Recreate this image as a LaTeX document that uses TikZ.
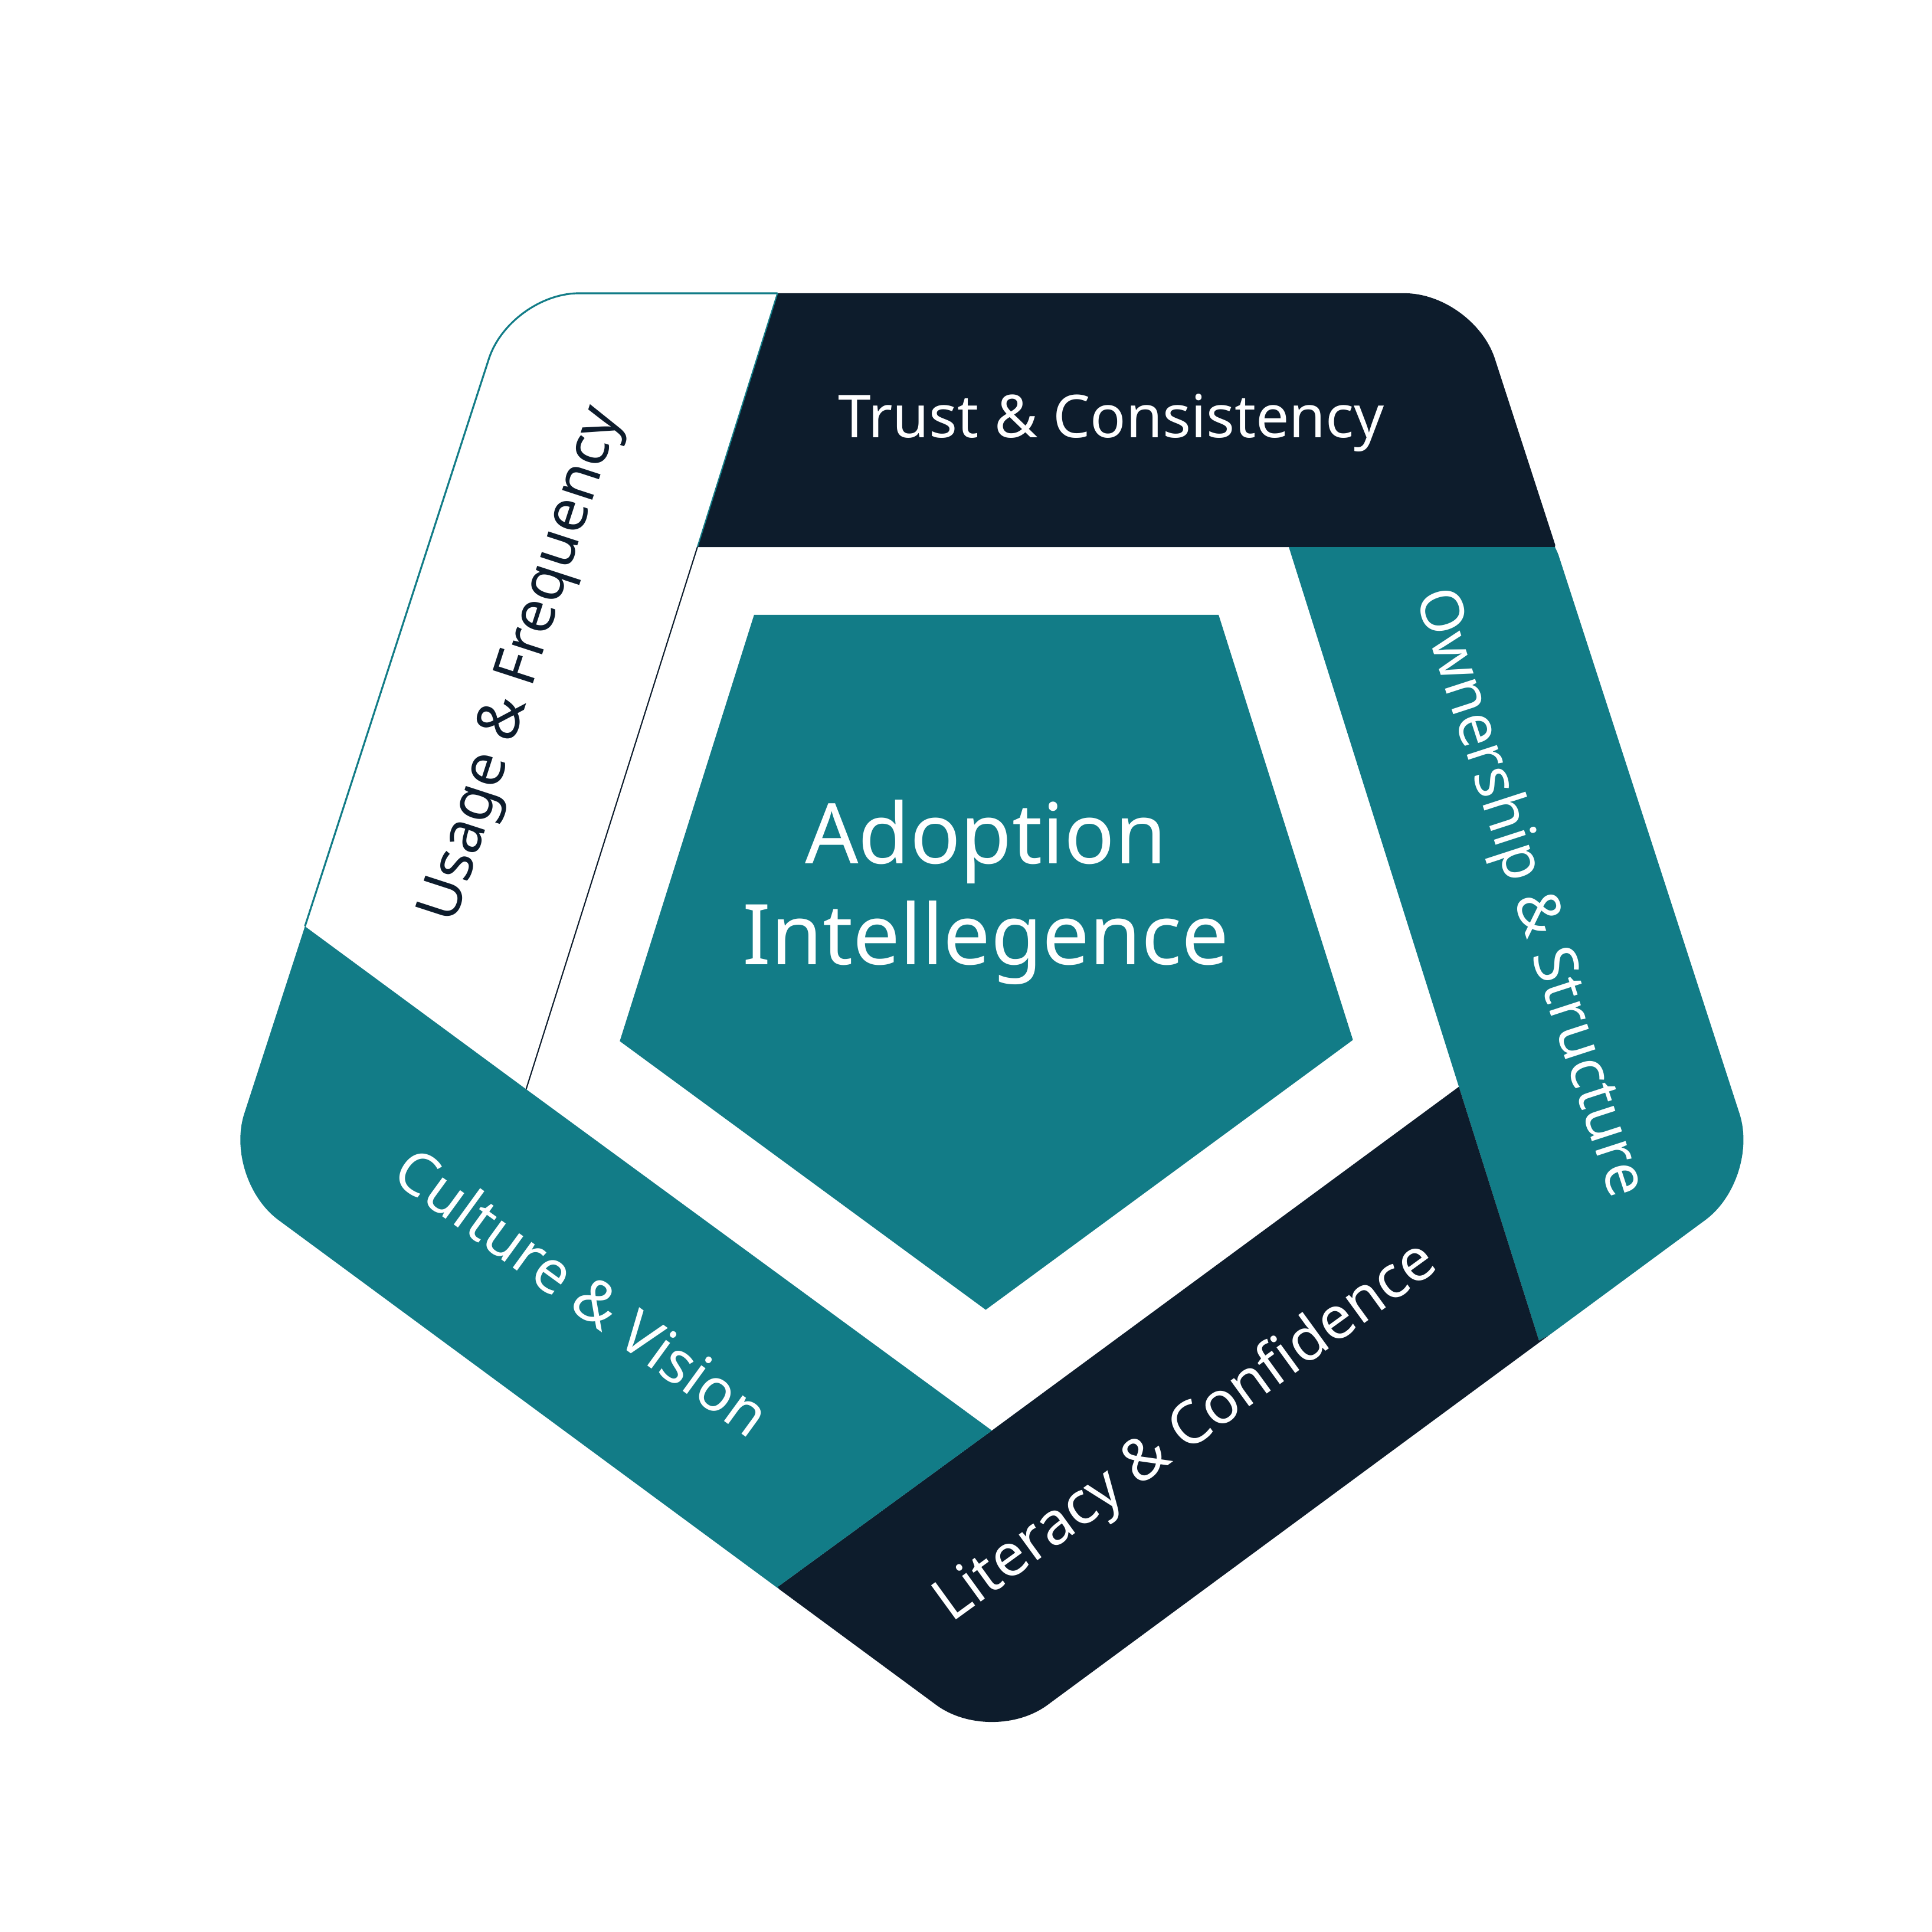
\documentclass[tikz,border=0pt]{standalone}
\usepackage{fontspec}
\setmainfont{Noto Sans}
\definecolor{teal}{HTML}{127C87}
\definecolor{dark}{HTML}{0D1C2C}
\begin{document}
\begin{tikzpicture}[x=1pt,y=-1pt,
  lbl/.style={font=\fontsize{48}{58}\selectfont,text=white},
  outer/.style={rounded corners=56}]
\useasboundingbox (0,0) rectangle (1568,1568);
\coordinate (T1) at (414,238); \coordinate (T2) at (1196,238);
\coordinate (R) at (1429,957); \coordinate (B) at (805,1417); \coordinate (L) at (181,957);
\begin{scope}
\clip[outer] (T1)--(T2)--(R)--(B)--(L)--cycle;
\fill[dark] (631,238)--(631,150)--(1300,150)--(1262,444)--(566,444)--cycle;
\fill[teal] (1046,444)--(1262,444)--(1500,957)--(1249,1088)--(1184,882)--cycle;
\fill[dark] (1184,882)--(1249,1088)--(1500,957)--(805,1500)--(631,1288)--(805,1161)--cycle;
\fill[teal] (805,1161)--(631,1288)--(805,1500)--(100,957)--(150,680)--(427,884)--cycle;
\end{scope}
\begin{scope}
\clip (427,884)--(150,680)--(300,100)--(631,150)--(631,238)--(566,444)--cycle;
\draw[teal,line width=1.5,outer] (T1)--(T2)--(R)--(B)--(L)--cycle;
\end{scope}
\draw[teal,line width=1] (631,238)--(566,444);
\draw[dark,line width=1] (566,444)--(427,884);
\fill[teal] (612,499)--(989,499)--(1098,844)--(800,1063)--(503,845)--cycle;
\node[lbl] (tc) at (902,343) {Trust \& Consistency};
\node[lbl,text=dark,rotate=72] (uf) at (425,540) {Usage \& Frequency};
\node[lbl,rotate=-72] (os) at (1240,725) {Ownership \& Structure};
\node[lbl,rotate=36] (lc) at (963,1163) {Literacy \& Confidence};
\node[lbl,rotate=-36] (cv) at (473,1048) {Culture \& Vision};
\node[font=\fontsize{68}{82}\selectfont,text=white,align=center] (ai) at (800,724) {Adoption\\Intellegence};
\end{tikzpicture}
\end{document}
